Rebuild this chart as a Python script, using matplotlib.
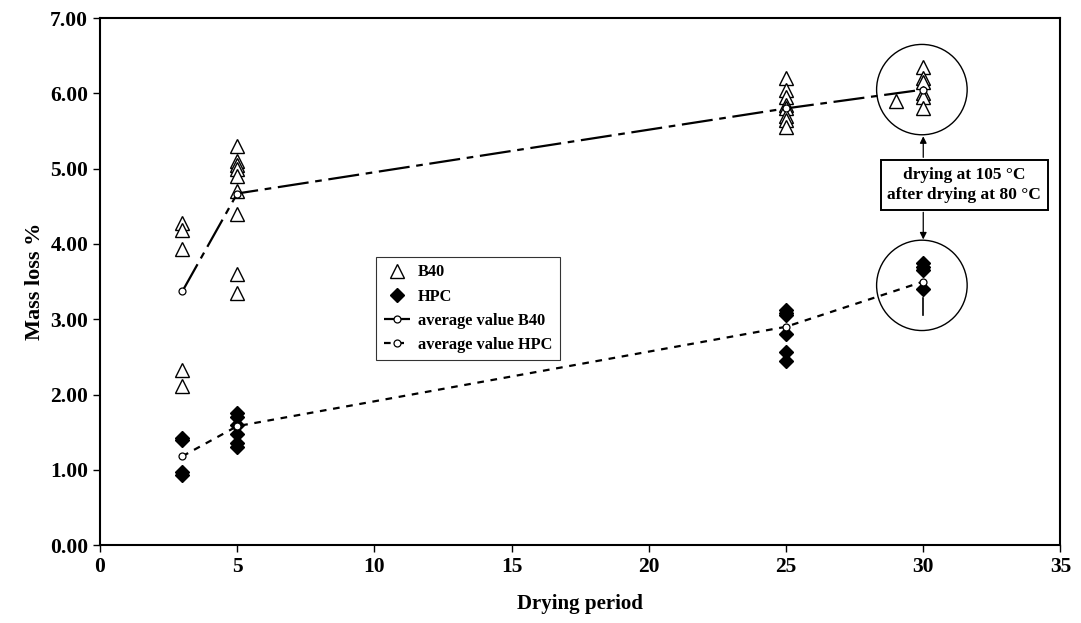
import numpy as np
import matplotlib
matplotlib.use("Agg")
import matplotlib.pyplot as plt
from matplotlib.patches import Ellipse

plt.rcParams['font.family'] = ['Liberation Serif', 'DejaVu Serif']
plt.rcParams['font.weight'] = 'bold'

# single measurements, B40
b40_x = [3, 3, 3, 3, 3,
         5, 5, 5, 5, 5, 5, 5, 5, 5,
         25, 25, 25, 25, 25, 25, 25, 25,
         29, 30, 30, 30, 30, 30, 30]
b40_y = [4.28, 4.18, 3.93, 2.33, 2.12,
         5.30, 5.10, 5.05, 5.00, 4.90, 4.70, 4.40, 3.60, 3.35,
         6.20, 6.05, 5.95, 5.85, 5.80, 5.70, 5.65, 5.55,
         5.90, 6.35, 6.20, 6.15, 6.00, 5.95, 5.80]

# single measurements, HPC
hpc_x = [3, 3, 3, 3,
         5, 5, 5, 5, 5, 5,
         25, 25, 25, 25, 25, 25,
         30, 30, 30, 30]
hpc_y = [1.42, 1.40, 0.97, 0.93,
         1.75, 1.70, 1.60, 1.48, 1.35, 1.30,
         3.12, 3.08, 3.05, 2.80, 2.57, 2.45,
         3.75, 3.70, 3.65, 3.40]

# averages
avg_x = [3, 5, 25, 30]
avg_b40 = [3.37, 4.67, 5.80, 6.05]
avg_hpc = [1.18, 1.58, 2.90, 3.50]

fig = plt.figure(figsize=(10.81, 6.23), dpi=100)
ax = fig.add_axes([0.0925, 0.125, 0.8885, 0.846])

ax.plot(b40_x, b40_y, ls='none', marker='^', ms=10, mfc='white', mec='black',
        mew=1.0, label='B40')
ax.plot(hpc_x, hpc_y, ls='none', marker='D', ms=7.5, mfc='black', mec='black',
        label='HPC')
ax.plot(avg_x, avg_b40, color='black', lw=1.6, ls=(0, (14, 3, 3, 3)),
        marker='o', ms=5, mfc='white', mec='black', mew=0.9,
        label='average value B40')
ax.plot(avg_x, avg_hpc, color='black', lw=1.6, ls=(0, (3, 3)),
        marker='o', ms=5, mfc='white', mec='black', mew=0.9,
        label='average value HPC')

# small vertical dash below the HPC cluster at 30
ax.plot([30, 30], [3.05, 3.28], color='black', lw=1.2)

# circles around the 30-day clusters
ax.add_patch(Ellipse((29.95, 6.05), 3.3, 1.2, fill=False, ec='black', lw=1.0))
ax.add_patch(Ellipse((29.95, 3.45), 3.3, 1.2, fill=False, ec='black', lw=1.0))

# annotation box and arrows
ax.text(31.5, 4.78, 'drying at 105 \u00b0C\nafter drying at 80 \u00b0C',
        ha='center', va='center', fontsize=12.5, fontweight='bold',
        linespacing=1.3,
        bbox=dict(boxstyle='square,pad=0.4', fc='white', ec='black', lw=1.4))
ax.annotate('', xy=(30, 5.43), xytext=(30, 5.15),
            arrowprops=dict(arrowstyle='-|>', color='black', lw=0.9,
                            mutation_scale=10, shrinkA=0, shrinkB=0))
ax.annotate('', xy=(30, 4.06), xytext=(30, 4.42),
            arrowprops=dict(arrowstyle='-|>', color='black', lw=0.9,
                            mutation_scale=10, shrinkA=0, shrinkB=0))

ax.set_xlim(0, 35)
ax.set_ylim(0, 7)
ax.set_xticks(np.arange(0, 36, 5))
ax.set_yticks(np.arange(0, 7.01, 1))
ax.set_yticklabels(['%.2f' % v for v in np.arange(0, 7.01, 1)])
ax.tick_params(direction='out', length=5, width=1, labelsize=15.5)
for lab in ax.get_xticklabels() + ax.get_yticklabels():
    lab.set_fontweight('bold')
for s in ax.spines.values():
    s.set_linewidth(1.5)

ax.set_xlabel('Drying period', fontsize=15, fontweight='bold', labelpad=12)
ax.set_ylabel('Mass loss %', fontsize=16, fontweight='bold', labelpad=4)

leg = ax.legend(loc='upper left', bbox_to_anchor=(0.279, 0.562),
                frameon=True, fancybox=False, edgecolor='black',
                handlelength=1.6, handletextpad=0.5, borderpad=0.45,
                labelspacing=0.5,
                prop={'weight': 'bold', 'size': 11.8})
leg.get_frame().set_linewidth(0.8)

fig.savefig('out.png', dpi=100)
